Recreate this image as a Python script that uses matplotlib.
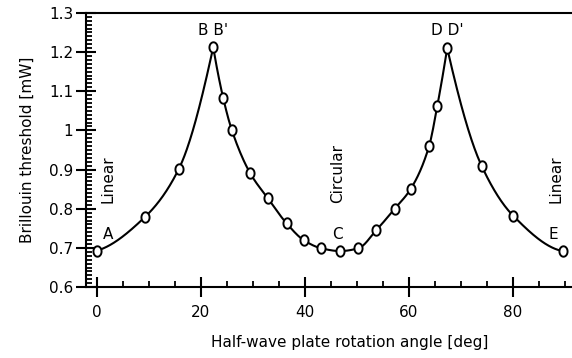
import matplotlib
matplotlib.use('Agg')
import matplotlib.pyplot as plt
import numpy as np
from matplotlib.ticker import MultipleLocator
from matplotlib.path import Path

plt.rcParams['font.family'] = ['DejaVu Sans']

angle = [0.0, 9.2, 15.8, 22.4, 24.3, 26.0, 29.5, 32.9, 36.5, 39.8, 43.2,
         46.8, 50.3, 53.8, 57.3, 60.4, 63.9, 65.5, 67.4, 74.0, 80.1, 89.6]
threshold = [0.693, 0.778, 0.902, 1.212, 1.084, 1.000, 0.891, 0.827, 0.763,
             0.720, 0.699, 0.692, 0.699, 0.746, 0.800, 0.851, 0.959, 1.063,
             1.210, 0.910, 0.782, 0.692]
peaks = [3, 18]  # indices of B and D (cusps)

point_labels = ['A', "B B'", 'C', "D D'", 'E']
point_label_x = [2.2, 22.4, 46.2, 67.4, 87.8]
point_label_y = [0.735, 1.255, 0.735, 1.255, 0.735]

state_labels = ['Linear', 'Circular', 'Linear']
state_label_x = [2.2, 46.4, 88.4]


def pchip(x, y, xs):
    x = np.asarray(x, float); y = np.asarray(y, float)
    h = np.diff(x); d = np.diff(y) / h
    n = len(x)
    m = np.zeros(n)
    for k in range(1, n - 1):
        if d[k - 1] * d[k] > 0:
            w1 = 2 * h[k] + h[k - 1]; w2 = h[k] + 2 * h[k - 1]
            m[k] = (w1 + w2) / (w1 / d[k - 1] + w2 / d[k])
    m[0] = ((2 * h[0] + h[1]) * d[0] - h[0] * d[1]) / (h[0] + h[1])
    if np.sign(m[0]) != np.sign(d[0]):
        m[0] = 0
    m[-1] = ((2 * h[-1] + h[-2]) * d[-1] - h[-1] * d[-2]) / (h[-1] + h[-2])
    if np.sign(m[-1]) != np.sign(d[-1]):
        m[-1] = 0
    idx = np.clip(np.searchsorted(x, xs) - 1, 0, n - 2)
    t = (xs - x[idx]) / h[idx]
    h00 = 2 * t**3 - 3 * t**2 + 1; h10 = t**3 - 2 * t**2 + t
    h01 = -2 * t**3 + 3 * t**2; h11 = t**3 - t**2
    return (h00 * y[idx] + h10 * h[idx] * m[idx] + h01 * y[idx + 1]
            + h11 * h[idx] * m[idx + 1])


# slightly tall open circle, as in the scanned figure
th = np.linspace(0, 2 * np.pi, 60)
oval = Path(np.column_stack([0.78 * np.cos(th), np.sin(th)]), closed=True)

fig = plt.figure(figsize=(5.72, 3.58), dpi=100)
ax = fig.add_axes([0.150, 0.198, 0.850, 0.766])

bounds = [0] + peaks + [len(angle) - 1]
for a, b in zip(bounds[:-1], bounds[1:]):
    xb = angle[a:b + 1]; yb = threshold[a:b + 1]
    xs = np.linspace(xb[0], xb[-1], 200)
    ax.plot(xs, pchip(xb, yb, xs), color='black', lw=1.5, zorder=2)

ax.plot(angle, threshold, ls='none', marker=oval, ms=7.5, mfc='white',
        mec='black', mew=1.4, zorder=3)

for t, x, y in zip(point_labels, point_label_x, point_label_y):
    ax.text(x, y, t, ha='center', va='center', fontsize=11)
for t, x in zip(state_labels, state_label_x):
    ax.text(x, 0.815, t, rotation=90, ha='center', va='bottom', fontsize=11)

ax.set_xlim(-2.1, 91.4)
ax.set_ylim(0.6, 1.3)
ax.xaxis.set_major_locator(MultipleLocator(20))
ax.xaxis.set_minor_locator(MultipleLocator(5))
ax.yaxis.set_major_locator(MultipleLocator(0.1))
ax.yaxis.set_minor_locator(MultipleLocator(0.01))
ax.yaxis.set_major_formatter(plt.FuncFormatter(lambda v, p: '%g' % round(v, 2)))

ax.tick_params(which='major', direction='inout', length=14, width=1.5,
               labelsize=11, top=False, right=False)
ax.tick_params(axis='x', which='major', pad=6)
ax.tick_params(axis='y', which='major', pad=2)
ax.tick_params(which='minor', direction='in', length=4.5, width=1.3,
               top=False, right=False)

ax.spines['right'].set_visible(False)
for s in ['left', 'bottom', 'top']:
    ax.spines[s].set_linewidth(1.5)

ax.set_xlabel('Half-wave plate rotation angle [deg]', fontsize=11)
ax.xaxis.set_label_coords(0.543, -0.175)
ax.set_ylabel('Brillouin threshold [mW]', fontsize=11, labelpad=10)

fig.savefig('out.png', dpi=100)
